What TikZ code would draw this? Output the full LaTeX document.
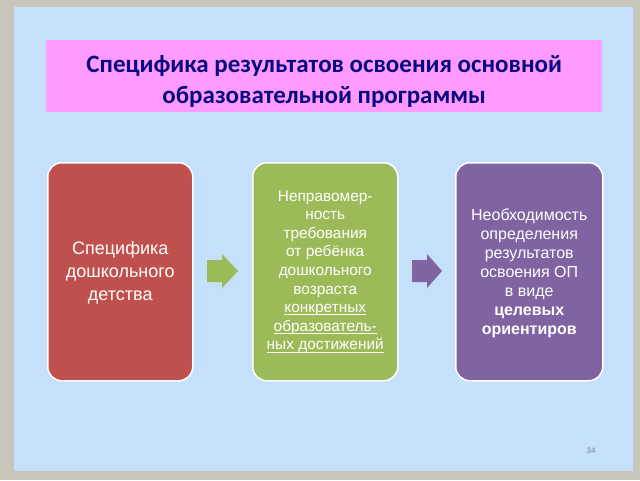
\documentclass[tikz,border=0pt]{standalone}
\usepackage{fontspec}
\setmainfont{Liberation Sans}
\newfontfamily\titlefont{Carlito}
\definecolor{frame}{RGB}{200,197,186}
\definecolor{bgblue}{RGB}{196,224,250}
\definecolor{titlepink}{RGB}{255,155,255}
\definecolor{navy}{RGB}{10,10,128}
\definecolor{boxred}{RGB}{192,80,77}
\definecolor{boxgreen}{RGB}{155,187,89}
\definecolor{boxpurple}{RGB}{128,100,162}
\definecolor{pagegrey}{RGB}{120,130,145}
\newcommand\ulx[1]{\setbox0\hbox{#1}\rlap{\rule[-2.4pt]{\wd0}{0.7pt}}\box0}
\tikzset{
  card/.style={draw=white, line width=1.5pt, rounded corners=14pt, anchor=north west, inner sep=0pt, text=white, align=center}
}
\begin{document}
\begin{tikzpicture}[x=1pt,y=-1pt]
\useasboundingbox (0,0) rectangle (640,480);
\fill[frame] (0,0) rectangle (640,480);
\fill[bgblue] (14,7) rectangle (633,471);
% title
\node[fill=titlepink, minimum width=556pt, minimum height=72pt, anchor=north west, inner sep=0pt] (title) at (46,40) {};
\node[text=navy, align=center, font=\titlefont\bfseries\fontsize{25}{31}\selectfont] (titletext) at ([yshift=-5pt]title.center)
  {Специфика результатов освоения основной\\образовательной программы};
% cards
\node[card, fill=boxred, minimum width=145pt, minimum height=218pt] (red) at (47,162) {};
\node[card, fill=boxgreen, minimum width=145pt, minimum height=218pt] (green) at (252,162) {};
\node[card, fill=boxpurple, minimum width=147pt, minimum height=218pt] (purple) at (455,162) {};
\node[text=white, align=center, font=\fontsize{18}{23}\selectfont] (redtext) at ([yshift=-1pt]red.center)
  {Специфика\\дошкольного\\детства};
\node[text=white, align=center, font=\fontsize{15.4}{18.6}\selectfont] (greentext) at (green.center)
  {Неправомер-\\ность\\требования\\от ребёнка\\дошкольного\\возраста\\\ulx{конкретных}\\\ulx{образователь-}\\\ulx{ных достижений}};
\node[text=white, align=center, font=\fontsize{16}{19}\selectfont] (purpletext) at ([yshift=-2pt]purple.center)
  {Необходимость\\определения\\результатов\\освоения ОП\\в виде\\\textbf{целевых}\\\textbf{ориентиров}};
% arrows
\coordinate (a1) at (207,271);
\coordinate (a2) at (412,271);
\fill[boxgreen] (a1) ++(0,-11) -- ++(15,0) -- ++(0,-6) -- ++(16,17) -- ++(-16,17) -- ++(0,-6) -- ++(-15,0) -- cycle;
\fill[boxpurple] (a2) ++(0,-11) -- ++(15,0) -- ++(0,-6) -- ++(15,17) -- ++(-15,17) -- ++(0,-6) -- ++(-15,0) -- cycle;
% page number
\node[text=pagegrey, font=\fontsize{8}{9}\selectfont] (page) at (591,451) {34};
\end{tikzpicture}
\end{document}
